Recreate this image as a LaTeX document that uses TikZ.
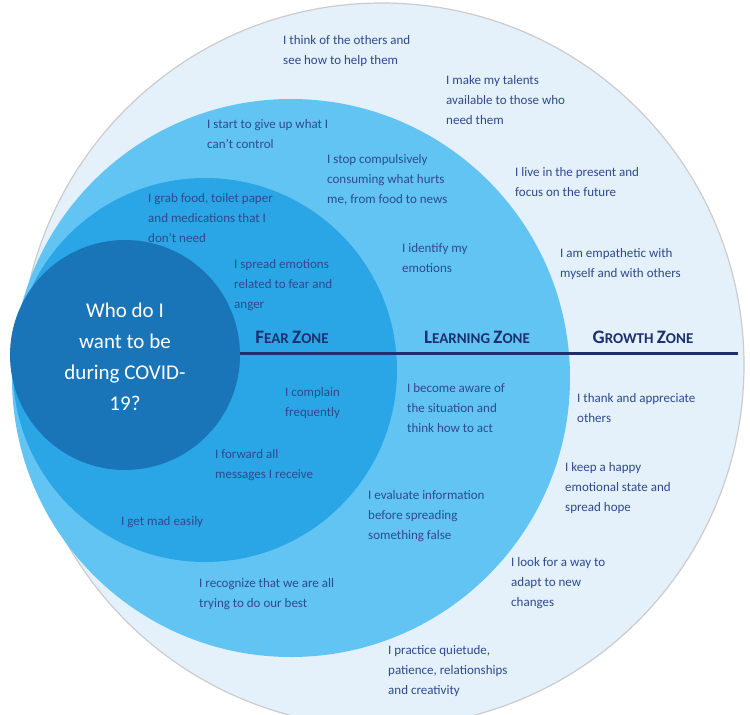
\documentclass[tikz,border=0pt]{standalone}
\usepackage{fontspec}
\setmainfont{Carlito}
\begin{document}
\begin{tikzpicture}[x=1pt,y=-1pt,
  txt/.style={anchor=north west,inner sep=0pt,align=left,text=txtblue,font=\fontsize{13}{20}\selectfont},
  zone/.style={inner sep=0pt,text=navy,font=\bfseries\fontsize{19}{22}\selectfont}]
\definecolor{bgouter}{HTML}{E4F0FA}
\definecolor{learn}{HTML}{62C4F3}
\definecolor{fear}{HTML}{2AA6E6}
\definecolor{core}{HTML}{1A74B8}
\definecolor{navy}{HTML}{1C2F6E}
\definecolor{txtblue}{HTML}{2E4A8C}
\useasboundingbox[fill=white] (0,0) rectangle (750,715);
\fill[bgouter,draw=gray!40,line width=1.2] (382,365) circle[radius=362];
\fill[learn] (291,378) circle[radius=279];
\fill[fear] (205,370) circle[radius=192];
\fill[core] (125,355) circle[radius=115];
\coordinate (ls) at (240,353);
\coordinate (le) at (738,353);
\draw[navy,line width=3] (ls) -- (le);
\node[txt] (t1) at (283,35) {I think of the others and\\see how to help them};
\node[txt] (t2) at (446,75) {I make my talents\\available to those who\\need them};
\node[txt] (t3) at (207,119) {I start to give up what I\\can't control};
\node[txt] (t4) at (327,154) {I stop compulsively\\consuming what hurts\\me, from food to news};
\node[txt] (t5) at (515,167) {I live in the present and\\focus on the future};
\node[txt] (t6) at (148,193) {I grab food, toilet paper\\and medications that I\\don't need};
\node[txt] (t7) at (402,243) {I identify my\\emotions};
\node[txt] (t8) at (560,248) {I am empathetic with\\myself and with others};
\node[txt] (t9) at (234,259) {I spread emotions\\related to fear and\\anger};
\node[zone] (fz) at (292,337) {F\fontsize{15}{18}\selectfont EAR \fontsize{19}{22}\selectfont Z\fontsize{15}{18}\selectfont ONE};
\node[zone] (lz) at (477,337) {L\fontsize{15}{18}\selectfont EARNING \fontsize{19}{22}\selectfont Z\fontsize{15}{18}\selectfont ONE};
\node[zone] (gz) at (643,337) {G\fontsize{15}{18}\selectfont ROWTH \fontsize{19}{22}\selectfont Z\fontsize{15}{18}\selectfont ONE};
\node[align=center,text=white,font=\fontsize{21}{31}\selectfont] (q) at (125,357) {Who do I\\want to be\\during COVID-\\19?};
\node[txt] (t10) at (285,387) {I complain\\frequently};
\node[txt] (t11) at (407,383) {I become aware of\\the situation and\\think how to act};
\node[txt] (t12) at (577,393) {I thank and appreciate\\others};
\node[txt] (t13) at (215,449) {I forward all\\messages I receive};
\node[txt] (t14) at (565,462) {I keep a happy\\emotional state and\\spread hope};
\node[txt] (t15) at (368,490) {I evaluate information\\before spreading\\something false};
\node[txt] (t16) at (121,516) {I get mad easily};
\node[txt] (t17) at (511,557) {I look for a way to\\adapt to new\\changes};
\node[txt] (t18) at (199,578) {I recognize that we are all\\trying to do our best};
\node[txt] (t19) at (388,645) {I practice quietude,\\patience, relationships\\and creativity};
\end{tikzpicture}
\end{document}
